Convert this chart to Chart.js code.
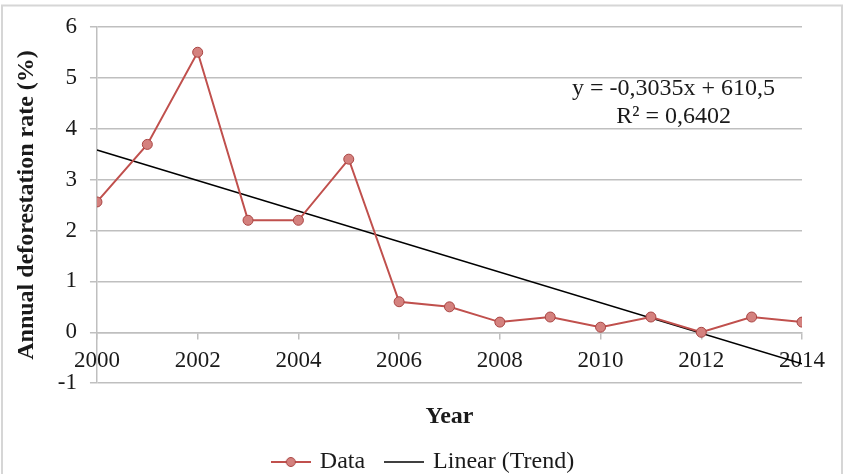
<!DOCTYPE html>
<html lang="en">
<head>
<meta charset="utf-8">
<title>Annual deforestation rate</title>
<style>
html, body { margin: 0; padding: 0; background: #fff; }
#wrap { width: 848px; height: 474px; }
</style>
</head>
<body>
<div id="wrap"><canvas id="canvas"></canvas></div>
<script src="https://cdn.jsdelivr.net/npm/chart.js"></script>
<script>

let YEARS = [2000, 2001, 2002, 2003, 2004, 2005, 2006, 2007, 2008, 2009, 2010, 2011, 2012, 2013, 2014]
let RATES = [2.56, 3.69, 5.5, 2.2, 2.2, 3.4, 0.6, 0.5, 0.2, 0.3, 0.1, 0.3, 0.0, 0.3, 0.2]

// linear trend at both ends
let TREND_YEARS = [2000, 2014]
let TREND_RATES = [3.58, -0.62]

let X_TICKS = [2000, 2002, 2004, 2006, 2008, 2010, 2012, 2014]
let Y_TICKS = [-1, 0, 1, 2, 3, 4, 5, 6]

let EQUATION = ["y = -0,3035x + 610,5", "R² = 0,6402"]
let EQUATION_AT = {x: 2011.45, y: 4.5}

let SERIF = '"Liberation Serif", "Times New Roman", serif'
let GRID = "#bfbfbf"
let RED = "#c0504d"
let TEXT = "#1a1a1a"

function legendIcon(kind) {
    let c = document.createElement("canvas")
    c.width = 40
    c.height = 12
    let g = c.getContext("2d")
    g.lineWidth = kind == "data" ? 2 : 1.5
    g.strokeStyle = kind == "data" ? RED : "#000"
    g.beginPath()
    g.moveTo(0, 6)
    g.lineTo(40, 6)
    g.stroke()
    if (kind == "data") {
        g.beginPath()
        g.arc(20, 6, 4.5, 0, Math.PI * 2)
        g.fillStyle = "#d4817e"
        g.fill()
        g.strokeStyle = "#a94442"
        g.lineWidth = 1
        g.stroke()
    }
    return c
}

let frame = {
    id: "frame",
    beforeDraw(chart) {
        let g = chart.ctx
        g.save()
        g.strokeStyle = "#d6d6d6"
        g.lineWidth = 2
        g.strokeRect(2, 5.5, 840, 490)
        g.restore()
    },
}

let equation = {
    id: "equation",
    afterDatasetsDraw(chart) {
        let g = chart.ctx
        let x = chart.scales.x.getPixelForValue(EQUATION_AT.x)
        let y = chart.scales.y.getPixelForValue(EQUATION_AT.y)
        g.save()
        g.font = "24px " + SERIF
        g.fillStyle = TEXT
        g.textAlign = "center"
        g.textBaseline = "middle"
        g.fillText(EQUATION[0], x, y - 14)
        g.fillText(EQUATION[1], x, y + 14)
        g.restore()
    },
}

let ctx = document.getElementById("canvas")

let chart = new Chart(ctx, {
    type: "line",
    data: {
        datasets: [
            {
                label: "Data",
                data: YEARS.map((yr, i) => ({x: yr, y: RATES[i]})),
                borderColor: RED,
                borderWidth: 2,
                pointRadius: 5,
                pointBackgroundColor: "#d4817e",
                pointBorderColor: "#a94442",
                pointBorderWidth: 1,
            },
            {
                label: "Linear (Trend)",
                data: TREND_YEARS.map((yr, i) => ({x: yr, y: TREND_RATES[i]})),
                borderColor: "#000",
                borderWidth: 1.6,
                pointRadius: 0,
            },
        ]
    },
    options: {
        responsive: true,
        maintainAspectRatio: false,
        animation: false,
        devicePixelRatio: 1,
        layout: {
            padding: {top: 15, left: 8, right: 8, bottom: -10},
        },
        scales: {
            x: {
                type: "linear",
                min: 2000,
                max: 2014,
                position: {y: 0},
                afterBuildTicks: s => { s.ticks = X_TICKS.map(v => ({value: v})) },
                ticks: {
                    font: {family: SERIF, size: 23},
                    color: TEXT,
                    padding: 9,
                    maxRotation: 0,
                    autoSkip: false,
                    callback: v => String(v),
                },
                grid: {drawOnChartArea: false, tickLength: 6, color: GRID, lineWidth: 1.5},
                border: {color: GRID, width: 1.5},
            },
            y: {
                min: -1,
                max: 6,
                afterBuildTicks: s => { s.ticks = Y_TICKS.map(v => ({value: v})) },
                ticks: {
                    font: {family: SERIF, size: 23},
                    color: TEXT,
                    padding: 13,
                },
                grid: {color: GRID, lineWidth: 1.5, tickLength: 7},
                border: {color: GRID, width: 1.5},
                title: {
                    display: true,
                    text: "Annual deforestation rate (%)",
                    font: {family: SERIF, size: 24, weight: "bold"},
                    color: TEXT,
                    padding: {top: 4, bottom: 4},
                },
            },
            // empty right axis, only keeps the margin on the right of the plot
            right: {
                position: "right",
                grid: {display: false},
                border: {display: false},
                ticks: {display: false},
                afterFit: s => { s.width = 38 },
            },
        },
        plugins: {
            tooltip: {enabled: false},
            title: {
                display: true,
                text: "Year",
                position: "bottom",
                fullSize: false,
                weight: 500,
                font: {family: SERIF, size: 24, weight: "bold"},
                color: TEXT,
                padding: {top: 19, bottom: -3},
            },
            legend: {
                position: "bottom",
                labels: {
                    usePointStyle: true,
                    pointStyleWidth: 34,
                    padding: 22,
                    font: {family: SERIF, size: 24},
                    color: TEXT,
                    generateLabels: () => [
                        {text: "Data", pointStyle: legendIcon("data"), datasetIndex: 0, fontColor: TEXT, lineWidth: 0, hidden: false},
                        {text: "Linear (Trend)", pointStyle: legendIcon("trend"), datasetIndex: 1, fontColor: TEXT, lineWidth: 0, hidden: false},
                    ],
                },
            },
        },
    },
    plugins: [frame, equation],
})

</script>
</body>
</html>
